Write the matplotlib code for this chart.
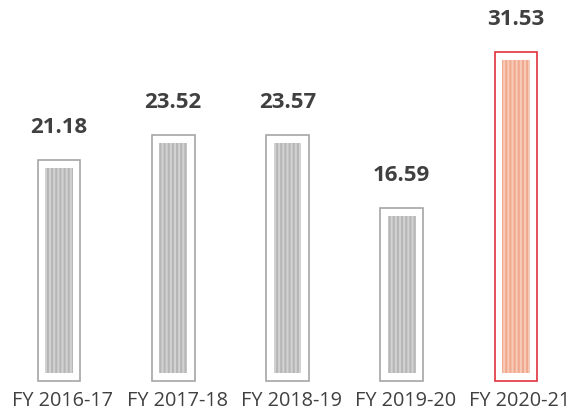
import matplotlib.pyplot as plt

years = ["FY 2016-17", "FY 2017-18", "FY 2018-19", "FY 2019-20", "FY 2020-21"]
values = [21.18, 23.52, 23.57, 16.59, 31.53]

plt.rcParams['font.family'] = ['Open Sans', 'DejaVu Sans']
plt.rcParams['hatch.linewidth'] = 1.5

fig = plt.figure(figsize=(5.79, 4.17), dpi=100)
ax = fig.add_axes([0, 0, 1, 1])

x = list(range(len(values)))
last = len(values) - 1
frame_col = ["#a6a6a6"] * last + ["#e0313d"]
fill_col = ["#d2d2d2"] * last + ["#f8cbb8"]
stripe_col = ["#b6b6b6"] * last + ["#f0a98e"]

inset = 0.77
ax.bar(x, values, width=0.375, facecolor="none", edgecolor=frame_col, linewidth=1.2)
ax.bar(x, [v - 2 * inset for v in values], bottom=inset, width=0.245,
       color=fill_col, edgecolor=stripe_col, linewidth=0, hatch="||||")

for xi, v in zip(x, values):
    ax.text(xi, v + 3.1, f"{v:.2f}", ha="center", va="center",
            fontsize=16, fontweight="bold", color="#404040")

for xi, lab in zip(x, years):
    ax.text(xi + 0.035, -1.95, lab, ha="center", va="center", fontsize=14.3, color="#404040")

ax.set_xlim(-0.516, 4.551)
ax.set_ylim(-3.44, 36.46)
ax.axis("off")

fig.savefig("out.png", dpi=100)
